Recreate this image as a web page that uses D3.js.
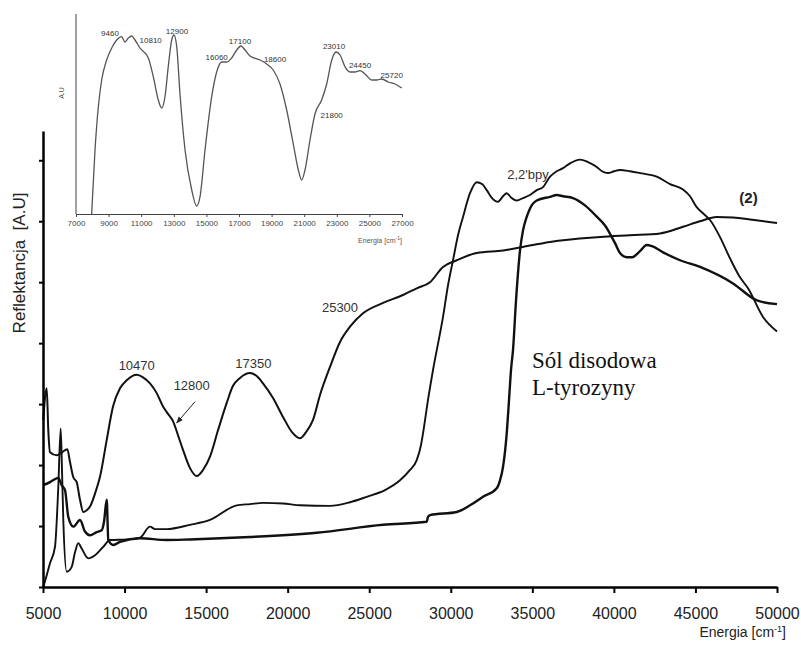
<!DOCTYPE html>
<html>
<head>
<meta charset="utf-8">
<script src="https://cdn.jsdelivr.net/npm/d3@7"></script>
<style>
  html, body { margin: 0; padding: 0; background: #fff; }
  svg { display: block; font-family: "Liberation Sans", Arial, sans-serif; }
</style>
</head>
<body>
<svg id="chart" width="801" height="648"></svg>
<script>
/* diffuse reflectance spectra, main plot + inset */

// main plot: [energy cm-1, reflectance A.U]
const complex2 = [
  [5018, 2.74], [5227, 3.26], [5325, 2.57], [5429, 2.21], [5840, 2.16], [6165, 2.21],
  [6490, 2.26], [6655, 2.05], [6858, 1.80], [7066, 1.72], [7268, 1.43], [7471, 1.23],
  [7679, 1.26], [7882, 1.32], [8292, 1.62], [8495, 1.81], [8905, 2.41], [9292, 2.96],
  [9721, 3.26], [10132, 3.39], [10745, 3.48], [11131, 3.44], [11560, 3.34], [11971, 3.18],
  [12357, 2.96], [12664, 2.84], [12989, 2.71], [13277, 2.49], [13583, 2.25], [14013, 1.95],
  [14423, 1.82], [14810, 1.92], [15239, 2.14], [15729, 2.57], [16263, 3.02], [16649, 3.30],
  [17078, 3.43], [17691, 3.51], [18102, 3.46], [18488, 3.34], [19101, 3.10], [19714, 2.79],
  [20266, 2.54], [20757, 2.44], [21125, 2.54], [21554, 2.74], [21983, 3.15], [22596, 3.61],
  [23209, 4.02], [23822, 4.27], [24619, 4.49], [25845, 4.66], [27072, 4.79], [27911, 4.90],
  [28727, 5.00], [29524, 5.25], [30364, 5.36], [31590, 5.48], [33203, 5.52], [35042, 5.61],
  [36084, 5.66], [39150, 5.74], [40989, 5.77], [42828, 5.80], [44238, 5.91], [45280, 6.00],
  [46305, 6.07], [47304, 6.06], [48346, 6.03], [50000, 5.97]
];

const bpy = [
  [5018, 0.00], [5184, 0.15], [5429, 0.39], [5736, 0.66], [5938, 1.64], [6085, 2.60],
  [6165, 1.92], [6245, 1.10], [6453, 0.25], [6760, 0.33], [6962, 0.57], [7164, 0.72],
  [7373, 0.63], [7777, 0.47], [8188, 0.52], [8697, 0.66], [9108, 0.77], [10132, 0.78],
  [10947, 0.81], [11560, 0.99], [11867, 0.95], [12584, 0.95], [14013, 1.02], [15239, 1.10],
  [16876, 1.34], [17691, 1.36], [18488, 1.38], [19714, 1.37], [20757, 1.34], [22596, 1.33],
  [23822, 1.39], [24846, 1.48], [25968, 1.59], [26888, 1.75], [27501, 1.92], [27912, 2.08],
  [28175, 2.33], [28298, 2.52], [28604, 3.07], [28911, 3.56], [29524, 4.43], [29831, 4.95],
  [30137, 5.36], [30444, 5.77], [30750, 6.07], [31179, 6.46], [31590, 6.64], [31915, 6.61],
  [32203, 6.51], [32528, 6.38], [32896, 6.32], [33203, 6.41], [33430, 6.46], [33693, 6.39],
  [34043, 6.34], [34429, 6.38], [34858, 6.43], [35269, 6.51], [35655, 6.56], [36084, 6.73],
  [36495, 6.82], [36881, 6.87], [37310, 6.95], [37923, 7.01], [38414, 6.97], [38947, 6.89],
  [39272, 6.82], [39640, 6.79], [40008, 6.82], [40376, 6.84], [40989, 6.82], [41602, 6.79],
  [42626, 6.73], [43441, 6.61], [44238, 6.52], [44667, 6.41], [45078, 6.23], [45465, 6.13],
  [45894, 6.02], [46507, 5.74], [47120, 5.39], [47733, 5.08], [48224, 4.90], [49143, 4.43],
  [50000, 4.19]
];

const tyrosine = [
  [5018, 1.67], [5429, 1.72], [5736, 1.77], [5938, 1.79], [6147, 1.67], [6349, 1.59],
  [6551, 1.15], [6858, 0.99], [7268, 1.10], [7575, 0.91], [7882, 0.85], [8292, 0.90],
  [8599, 0.93], [8740, 1.07], [8905, 1.43], [9004, 0.77], [9310, 0.69], [9721, 0.74],
  [10947, 0.80], [12584, 0.77], [14013, 0.78], [17691, 0.82], [21781, 0.89], [25845, 1.02],
  [28525, 1.07], [28604, 1.15], [28727, 1.18], [30364, 1.23], [31179, 1.34], [31976, 1.48],
  [32816, 1.62], [33019, 1.75], [33203, 1.97], [33430, 2.52], [33571, 3.07], [33693, 3.56],
  [33816, 3.89], [34000, 4.70], [34245, 5.52], [34429, 5.85], [34656, 6.07], [34858, 6.21],
  [35269, 6.34], [36084, 6.40], [36495, 6.43], [36881, 6.41], [37494, 6.38], [38230, 6.26],
  [38966, 6.07], [39456, 5.93], [40069, 5.64], [40376, 5.48], [40787, 5.41], [41112, 5.41],
  [41602, 5.51], [42013, 5.61], [42338, 5.59], [43012, 5.49], [44055, 5.36], [45280, 5.25],
  [47304, 4.98], [48775, 4.70], [50000, 4.64]
];

const xTicks = [5000, 10000, 15000, 20000, 25000, 30000, 35000, 40000, 45000, 50000];
const yTicks = [0, 1, 2, 3, 4, 5, 6, 7];

// [text, energy, reflectance] baseline positions
const peakLabels = [
  ['10470', 10745, 3.56],
  ['12800', 14118, 3.23],
  ['17350', 17894, 3.60],
  ['25300', 23209, 4.51],
  ["2,2'bpy", 34736, 6.70]
];
const arrow12800 = [[14319, 3.04], [13197, 2.69]];

// inset: [energy, A.U]
const inset = [
  [7960, 0], [8166, 32], [8370, 53.6], [8575, 67], [8880, 77], [9190, 83], [9496, 87],
  [9800, 88.7], [10000, 86], [10210, 88], [10415, 89], [10620, 87], [10925, 83], [11436, 78],
  [11742, 68.7], [12050, 57], [12255, 53], [12460, 58.7], [12660, 73.7], [12870, 87],
  [13010, 89.5], [13180, 83.7], [13380, 60], [13690, 32], [14100, 12], [14400, 4], [14610, 8.7],
  [14915, 32], [15325, 58.7], [15630, 71], [15940, 76], [16245, 76], [16550, 78], [16860, 82],
  [17120, 84], [17370, 82], [17675, 79], [18290, 77], [18700, 75], [19100, 72], [19515, 65],
  [19925, 52], [20330, 35], [20640, 22], [20845, 17], [21050, 22], [21355, 37], [21660, 50],
  [22070, 57], [22380, 65], [22690, 77], [22950, 81], [23200, 79.5], [23500, 73.7],
  [23810, 71], [24115, 71], [24420, 71.7], [24730, 70], [25140, 67], [25450, 67], [25755, 67.5],
  [26160, 66], [26570, 65], [26980, 63]
];
const insetTicks = [7000, 9000, 11000, 13000, 15000, 17000, 19000, 21000, 23000, 25000, 27000];
const insetLabels = [
  ['9460', 9086, 89.2], ['10810', 11583, 85.4], ['12900', 13196, 89.9],
  ['16060', 15632, 77.2], ['17100', 17061, 84.9], ['18600', 19209, 76.2],
  ['23010', 22829, 82.4], ['24450', 24424, 72.8], ['25720', 26369, 68.2],
  ['21800', 22687, 48.2]
];

const svg = d3.select('#chart');

// ---------- main plot ----------
const x = d3.scaleLinear().domain([5000, 50000]).range([43, 777]);
const y = d3.scaleLinear().domain([0, 7.48]).range([587, 131]);

const line = d3.line()
  .x(d => x(d[0]))
  .y(d => y(d[1]))
  .curve(d3.curveMonotoneX);

const curves = svg.append('g');
[[complex2, 2], [bpy, 1.9], [tyrosine, 2.4]].forEach(([data, w]) => {
  curves.append('path')
    .datum(data)
    .attr('d', line)
    .attr('fill', 'none')
    .attr('stroke', '#111')
    .attr('stroke-width', w)
    .attr('stroke-linejoin', 'round');
});

const xAxis = svg.append('g')
  .attr('transform', `translate(0,${y(0)})`)
  .call(d3.axisBottom(x).tickValues(xTicks).tickSize(6).tickSizeOuter(0).tickPadding(15).tickFormat(d3.format('d')));
xAxis.select('.domain').attr('stroke', '#000').attr('stroke-width', 2.5);
xAxis.selectAll('.tick line').attr('stroke', '#000').attr('stroke-width', 2);
xAxis.selectAll('.tick text').attr('font-size', 16).attr('fill', '#222');

const yAxis = svg.append('g')
  .attr('transform', `translate(${x(5000)},0)`)
  .call(d3.axisLeft(y).tickValues(yTicks).tickSize(4).tickSizeOuter(0).tickFormat(''));
yAxis.select('.domain').attr('stroke', '#000').attr('stroke-width', 2.5);
yAxis.selectAll('.tick line').attr('stroke', '#000').attr('stroke-width', 2);

svg.append('text')
  .attr('transform', `translate(21,${(y(0) + y(7.48)) / 2 - 96}) rotate(-90)`)
  .attr('text-anchor', 'middle')
  .attr('dominant-baseline', 'middle')
  .attr('font-size', 17)
  .attr('fill', '#222')
  .style('white-space', 'pre')
  .text('Reflektancja  [A.U]');

const xl = svg.append('text')
  .attr('x', 786).attr('y', 637)
  .attr('text-anchor', 'end')
  .attr('font-size', 14)
  .attr('fill', '#222');
xl.append('tspan').text('Energia [cm');
xl.append('tspan').attr('font-size', 9).attr('dy', -5).text('-1');
xl.append('tspan').attr('dy', 5).text(']');

svg.append('g').selectAll('text')
  .data(peakLabels)
  .join('text')
  .attr('x', d => x(d[1]))
  .attr('y', d => y(d[2]))
  .attr('text-anchor', 'middle')
  .attr('font-size', 13)
  .attr('fill', '#333')
  .text(d => d[0]);

svg.append('defs').append('marker')
  .attr('id', 'head')
  .attr('viewBox', '0 0 10 10')
  .attr('refX', 9).attr('refY', 5)
  .attr('markerWidth', 7).attr('markerHeight', 7)
  .attr('orient', 'auto')
  .append('path')
  .attr('d', 'M0,1 L10,5 L0,9 Z')
  .attr('fill', '#222');

svg.append('line')
  .attr('x1', x(arrow12800[0][0])).attr('y1', y(arrow12800[0][1]))
  .attr('x2', x(arrow12800[1][0])).attr('y2', y(arrow12800[1][1]))
  .attr('stroke', '#222').attr('stroke-width', 1)
  .attr('marker-end', 'url(#head)');

svg.append('text')
  .attr('x', x(48253)).attr('y', y(6.30))
  .attr('text-anchor', 'middle')
  .attr('font-size', 15).attr('font-weight', 'bold')
  .attr('fill', '#222')
  .text('(2)');

const sol = svg.append('text')
  .attr('font-family', '"Liberation Serif", "Times New Roman", serif')
  .attr('font-size', 23)
  .attr('fill', '#111');
sol.append('tspan').attr('x', x(34981)).attr('y', y(3.59)).text('Sól disodowa');
sol.append('tspan').attr('x', x(34981)).attr('y', y(3.15)).text('L-tyrozyny');

// ---------- inset ----------
const ix = d3.scaleLinear().domain([7000, 27000]).range([76, 402]);
const iy = d3.scaleLinear().domain([0, 100]).range([214, 14]);

const ins = svg.append('g');

ins.append('path')
  .datum(inset)
  .attr('d', d3.line().x(d => ix(d[0])).y(d => iy(d[1])).curve(d3.curveMonotoneX))
  .attr('fill', 'none')
  .attr('stroke', '#555')
  .attr('stroke-width', 1.3);

const ixAxis = ins.append('g')
  .attr('transform', `translate(0,${iy(0)})`)
  .call(d3.axisBottom(ix).tickValues(insetTicks).tickSize(3).tickSizeOuter(0).tickPadding(3).tickFormat(d3.format('d')));
ixAxis.select('.domain').attr('stroke', '#444');
ixAxis.selectAll('.tick line').attr('stroke', '#444');
ixAxis.selectAll('.tick text').attr('font-size', 8).attr('fill', '#444');

ins.append('line')
  .attr('x1', ix(7000)).attr('x2', ix(7000))
  .attr('y1', iy(0)).attr('y2', iy(100))
  .attr('stroke', '#444');

ins.append('text')
  .attr('transform', 'translate(62,93) rotate(-90)')
  .attr('text-anchor', 'middle')
  .attr('dominant-baseline', 'middle')
  .attr('font-size', 7)
  .attr('fill', '#555')
  .text('A.U');

const ixl = ins.append('text')
  .attr('x', 380).attr('y', 243)
  .attr('text-anchor', 'middle')
  .attr('font-size', 7)
  .attr('fill', '#555');
ixl.append('tspan').text('Energia  [cm');
ixl.append('tspan').attr('font-size', 5).attr('dy', -3).text('-1');
ixl.append('tspan').attr('dy', 3).text(']');

ins.append('g').selectAll('text')
  .data(insetLabels)
  .join('text')
  .attr('x', d => ix(d[1]))
  .attr('y', d => iy(d[2]))
  .attr('text-anchor', 'middle')
  .attr('font-size', 8)
  .attr('fill', '#333')
  .text(d => d[0]);
</script>
</body>
</html>
